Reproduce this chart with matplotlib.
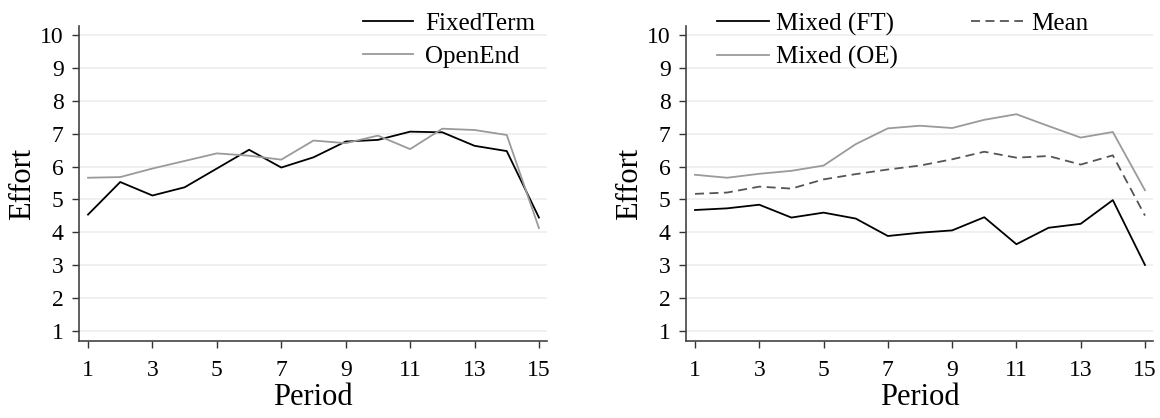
import numpy as np
import matplotlib
matplotlib.use("Agg")
import matplotlib.pyplot as plt

plt.rcParams['font.family'] = ['Liberation Serif', 'DejaVu Serif']

# effort per period
period = np.arange(1, 16)
fixed_term = [4.54, 5.53, 5.12, 5.37, 5.94, 6.51, 5.97, 6.28, 6.76, 6.81, 7.06, 7.04, 6.63, 6.47, 4.45]
open_end = [5.66, 5.68, 5.94, 6.17, 6.40, 6.33, 6.21, 6.79, 6.71, 6.94, 6.53, 7.15, 7.11, 6.96, 4.13]

mixed_ft = [4.68, 4.73, 4.84, 4.45, 4.60, 4.42, 3.89, 3.99, 4.06, 4.46, 3.64, 4.14, 4.26, 4.98, 3.01]
mixed_oe = [5.75, 5.66, 5.78, 5.87, 6.03, 6.68, 7.16, 7.24, 7.17, 7.42, 7.59, 7.23, 6.88, 7.05, 5.28]
mixed_mean = [5.17, 5.21, 5.39, 5.33, 5.61, 5.77, 5.91, 6.03, 6.22, 6.45, 6.27, 6.32, 6.06, 6.34, 4.51]

xticks = [1, 3, 5, 7, 9, 11, 13, 15]
yticks = list(range(1, 11))

W, H = 1160, 418
fig = plt.figure(figsize=(W / 100, H / 100), dpi=100, facecolor='white')


def style_axes(ax):
    ax.set_xlim(0.72, 15.25)
    ax.set_ylim(0.70, 10.27)
    ax.set_xticks(xticks)
    ax.set_yticks(yticks)
    ax.tick_params(axis='both', labelsize=17, length=5, width=1, color='#333333', pad=6)
    ax.tick_params(axis='x', pad=9)
    for s in ['top', 'right']:
        ax.spines[s].set_visible(False)
    for s in ['left', 'bottom']:
        ax.spines[s].set_color('#444444')
        ax.spines[s].set_linewidth(1.2)
    ax.yaxis.grid(True, color='#e9f0f2', linewidth=1.2)
    ax.set_axisbelow(True)
    ax.set_xlabel('Period', fontsize=22, labelpad=1)
    ax.set_ylabel('Effort', fontsize=22, labelpad=2)


ax1 = fig.add_axes([79 / W, 1 - 341 / H, 468 / W, 315 / H])
ax1.plot(period, fixed_term, color='black', lw=1.3, label='FixedTerm')
ax1.plot(period, open_end, color='#9a9a9a', lw=1.3, label='OpenEnd')
style_axes(ax1)
ax1.legend(loc='upper left', bbox_to_anchor=(350 / W, 1.0), bbox_transform=fig.transFigure,
           frameon=False, fontsize=18, borderpad=0, handlelength=2.0, handletextpad=0.5,
           labelspacing=0.4)

ax2 = fig.add_axes([686 / W, 1 - 341 / H, 467 / W, 315 / H])
ax2.plot(period, mixed_ft, color='black', lw=1.3, label='Mixed (FT)')
ax2.plot(period, mixed_oe, color='#9a9a9a', lw=1.3, label='Mixed (OE)')
ax2.plot(period, mixed_mean, color='#555555', lw=1.3, ls=(0, (5, 3)), label='Mean')
style_axes(ax2)
ax2.legend(loc='upper left', bbox_to_anchor=(704 / W, 1.0), bbox_transform=fig.transFigure,
           ncol=2, frameon=False, fontsize=18, borderpad=0, handlelength=2.1, handletextpad=0.3,
           labelspacing=0.4, columnspacing=2.9)

fig.savefig('out.png', dpi=100)
